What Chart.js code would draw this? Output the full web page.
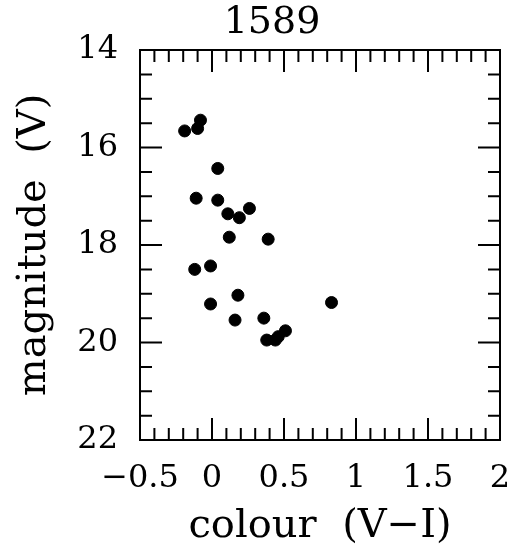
<!DOCTYPE html>
<html>
<head>
<meta charset="utf-8">
<script src="https://cdn.jsdelivr.net/npm/chart.js@4/dist/chart.umd.min.js"></script>
<style>
  body { margin: 0; background: #fff; }
</style>
</head>
<body>
<canvas id="cmd" width="517" height="551"></canvas>
<script>
// colour (V-I) and magnitude (V) of each star
var colour = [-0.19, -0.10, -0.08, 0.04, -0.11, 0.04, 0.11, 0.19, 0.26,
              0.12, 0.39, -0.12, -0.01, 0.18, -0.01, 0.83, 0.16, 0.36,
              0.38, 0.44, 0.46, 0.51];
var magnitude = [15.66, 15.61, 15.44, 16.43, 17.04, 17.08, 17.36, 17.44, 17.25,
                 17.84, 17.88, 18.50, 18.43, 19.03, 19.21, 19.18, 19.54, 19.50,
                 19.95, 19.95, 19.88, 19.76];
var xTicks = [-0.5, 0, 0.5, 1, 1.5, 2];
var yTicks = [14, 16, 18, 20, 22];
var titleText = '1589';

var points = [];
for (var i = 0; i < colour.length; i++) {
    points.push({x: colour[i], y: magnitude[i]});
}

var serif = "'DejaVu Serif', serif";

// box with inward ticks on all four sides, plus the title
var frame = {
    id: 'frame',
    afterDraw: function (chart) {
        var ctx = chart.ctx;
        var a = chart.chartArea;
        var xs = chart.scales.x, ys = chart.scales.y;
        ctx.save();
        ctx.strokeStyle = '#000';
        ctx.lineWidth = 2;
        ctx.strokeRect(a.left, a.top, a.right - a.left, a.bottom - a.top);
        ctx.beginPath();
        var v, p, len;
        for (var k = -5; k <= 20; k++) {
            v = k / 10;
            p = xs.getPixelForValue(v);
            len = (k % 5 === 0) ? 22 : 12;
            ctx.moveTo(p, a.bottom); ctx.lineTo(p, a.bottom - len);
            ctx.moveTo(p, a.top); ctx.lineTo(p, a.top + len);
        }
        for (var m = 28; m <= 44; m++) {
            v = m / 2;
            p = ys.getPixelForValue(v);
            len = (m % 4 === 0) ? 22 : 12;
            ctx.moveTo(a.left, p); ctx.lineTo(a.left + len, p);
            ctx.moveTo(a.right, p); ctx.lineTo(a.right - len, p);
        }
        ctx.stroke();

        // title sits a bit left of the plot centre, as in the original
        ctx.fillStyle = '#000';
        ctx.font = '38px ' + serif;
        ctx.textAlign = 'center';
        ctx.textBaseline = 'middle';
        ctx.fillText(titleText, (a.left + a.right) / 2 - 48, a.top / 2 - 2);
        ctx.restore();
    }
};

new Chart(document.getElementById('cmd'), {
    type: 'scatter',
    data: {
        datasets: [{
            data: points,
            backgroundColor: '#000',
            borderColor: '#000',
            pointRadius: 6,
            pointHoverRadius: 6
        }]
    },
    options: {
        responsive: false,
        animation: false,
        layout: {padding: {left: 0, right: 17, top: 50, bottom: 0}},
        plugins: {
            legend: {display: false},
            tooltip: {enabled: false},
            title: {display: false}
        },
        scales: {
            x: {
                type: 'linear',
                min: -0.5,
                max: 2,
                afterFit: function (s) {
                    s.height = 111;
                    s.paddingLeft = 0;
                    s.paddingRight = 0;
                },
                afterBuildTicks: function (s) {
                    s.ticks = xTicks.map(function (t) { return {value: t}; });
                },
                grid: {display: false, drawTicks: false},
                border: {display: false},
                ticks: {
                    color: '#000',
                    padding: 19,
                    autoSkip: false,
                    maxRotation: 0,
                    font: {family: serif, size: 32},
                    callback: function (v) { return String(v).replace('-', '\u2212'); }
                },
                title: {
                    display: true,
                    text: 'colour  (V\u2212I)',
                    color: '#000',
                    font: {family: serif, size: 40},
                    padding: {top: 0, bottom: 0}
                }
            },
            y: {
                type: 'linear',
                reverse: true,
                min: 14,
                max: 22,
                afterFit: function (s) { s.width = 140; },
                afterBuildTicks: function (s) {
                    s.ticks = yTicks.map(function (t) { return {value: t}; });
                },
                grid: {display: false, drawTicks: false},
                border: {display: false},
                ticks: {
                    color: '#000',
                    padding: 22,
                    autoSkip: false,
                    font: {family: serif, size: 32}
                },
                title: {
                    display: true,
                    text: 'magnitude  (V)',
                    color: '#000',
                    font: {family: serif, size: 40},
                    padding: {top: 11, bottom: 0}
                }
            }
        }
    },
    plugins: [frame]
});
</script>
</body>
</html>
